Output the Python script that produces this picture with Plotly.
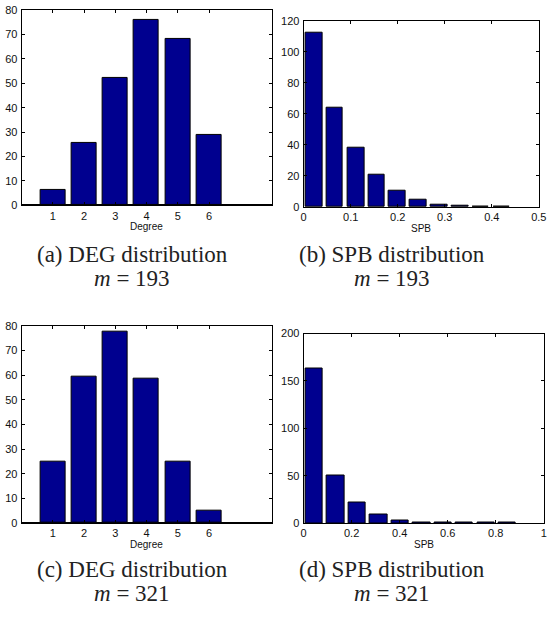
import plotly.graph_objects as go

# ---- data ----
deg_categories = [1, 2, 3, 4, 5, 6]
deg_counts_a = [6.5, 25.5, 52, 76, 68, 29]
deg_counts_c = [25, 59.5, 77.5, 58.5, 25, 5]

spb_centers_b = [0.022, 0.066, 0.111, 0.155, 0.199, 0.243, 0.288, 0.332, 0.376, 0.421]
spb_counts_b = [112, 64, 38.5, 21, 10.5, 4.5, 1.8, 0.8, 0.3, 0.2]
spb_ticks_b = [0, 0.1, 0.2, 0.3, 0.4, 0.5]

spb_centers_d = [0.043, 0.133, 0.222, 0.312, 0.401, 0.491, 0.580, 0.670, 0.759, 0.849]
spb_counts_d = [163, 50, 21.5, 9.5, 2.5, 0.8, 0.3, 0.2, 0.1, 0.1]
spb_ticks_d = [0, 0.2, 0.4, 0.6, 0.8, 1]

captions = [
    ("(a) DEG distribution", "<i>m</i> = 193"),
    ("(b) SPB distribution", "<i>m</i> = 193"),
    ("(c) DEG distribution", "<i>m</i> = 321"),
    ("(d) SPB distribution", "<i>m</i> = 321"),
]

W, H = 554, 618
BAR = "#00008F"

def px_x(a, b):
    return [a / W, b / W]

def px_y(top, bottom):
    return [1 - bottom / H, 1 - top / H]

fig = go.Figure()

panels = [
    dict(x=deg_categories, y=deg_counts_a, width=0.8, xd=px_x(19, 274), yd=px_y(4, 203.3),
         xr=[0, 8], yr=[0, 80], xt=dict(tickvals=deg_categories), yt=dict(dtick=10), xlabel="Degree", base=True),
    dict(x=spb_centers_b, y=spb_counts_b, width=0.0355, xd=px_x(306.7, 546.7), yd=px_y(15, 205),
         xr=[0, 0.5], yr=[0, 120], xt=dict(tickvals=spb_ticks_b, ticktext=[f"{v:g}" for v in spb_ticks_b]),
         yt=dict(dtick=20), xlabel="SPB", base=False),
    dict(x=deg_categories, y=deg_counts_c, width=0.8, xd=px_x(19, 274), yd=px_y(326, 527.3),
         xr=[0, 8], yr=[0, 80], xt=dict(tickvals=deg_categories), yt=dict(dtick=10), xlabel="Degree", base=True),
    dict(x=spb_centers_d, y=spb_counts_d, width=0.0716, xd=px_x(306.7, 551.7), yd=px_y(334, 527.3),
         xr=[0, 1], yr=[0, 200], xt=dict(tickvals=spb_ticks_d, ticktext=[f"{v:g}" for v in spb_ticks_d]),
         yt=dict(dtick=50), xlabel="SPB", base=False),
]

tickfont = dict(family="Liberation Sans, Arial, sans-serif", size=11, color="#111")
annotations = []
for i, p in enumerate(panels):
    n = "" if i == 0 else str(i + 1)
    xa, ya = "x" + n, "y" + n
    fig.add_trace(go.Bar(x=p["x"], y=p["y"], width=p["width"], xaxis=xa, yaxis=ya,
                         marker=dict(color=BAR, line=dict(color="black", width=1)),
                         showlegend=False))
    common = dict(showline=True, linecolor="black", linewidth=1, mirror="ticks",
                  ticks="inside", ticklen=3, tickcolor="black", showgrid=False,
                  tickfont=tickfont, fixedrange=True, ticklabeloverflow="allow")
    fig.layout["xaxis" + n] = dict(domain=p["xd"], range=p["xr"], anchor=ya, zeroline=False,
                                   ticklabelstandoff=0, **p["xt"], **common)
    fig.layout["yaxis" + n] = dict(domain=p["yd"], range=p["yr"], anchor=xa,
                                   zeroline=p["base"], zerolinecolor="black", zerolinewidth=2,
                                   ticklabelstandoff=1, **p["yt"], **common)
    xmid = (p["xd"][0] + p["xd"][1]) / 2
    ybot = p["yd"][0]
    annotations.append(dict(text=p["xlabel"], x=xmid, y=ybot - 22 / H, xref="paper", yref="paper",
                            showarrow=False, xanchor="center", yanchor="middle",
                            font=dict(family="Liberation Sans, Arial, sans-serif", size=10, color="#111")))

cap_x = [132, 397, 132, 397]
cap_y1 = [253, 253, 575, 575]
cap_y2 = [278, 278, 599, 599]
for (l1, l2), cx, y1, y2 in zip(captions, cap_x, cap_y1, cap_y2):
    for txt, yy in ((l1, y1), (l2, y2)):
        annotations.append(dict(text=txt, x=cx / W, y=1 - yy / H, xref="paper", yref="paper",
                                showarrow=False, xanchor="center", yanchor="middle",
                                font=dict(family="Liberation Serif, serif", size=23, color="#222")))

fig.update_layout(width=W, height=H, margin=dict(l=0, r=0, t=0, b=0),
                  paper_bgcolor="white", plot_bgcolor="white", bargap=0,
                  annotations=annotations)

fig.write_html("out.html")
